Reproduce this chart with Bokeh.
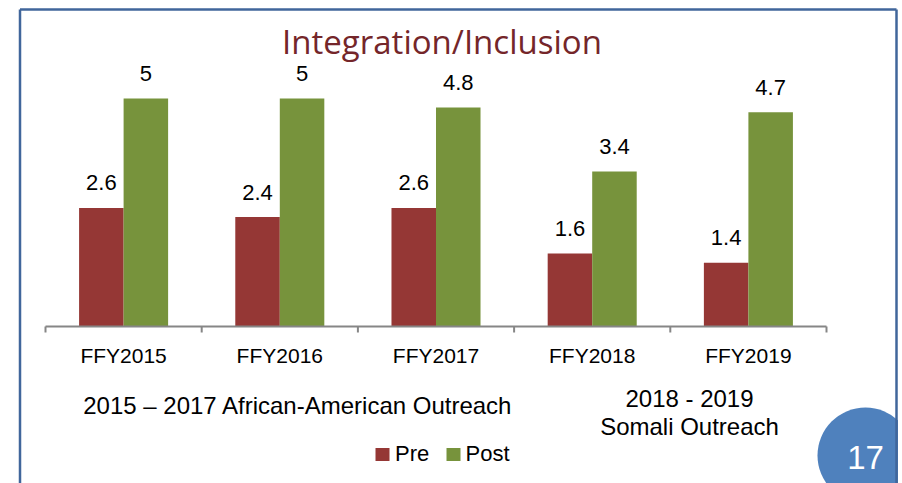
import numpy as np
from bokeh.plotting import figure
from bokeh.models import Range1d, ColumnDataSource
from bokeh.transform import dodge
from bokeh.core.properties import value
from bokeh.embed import file_html
from bokeh.resources import INLINE

# ---------------- data ----------------
categories = ["FFY2015", "FFY2016", "FFY2017", "FFY2018", "FFY2019"]
pre_values = [2.6, 2.4, 2.6, 1.6, 1.4]
post_values = [5, 5, 4.8, 3.4, 4.7]
series_names = ["Pre", "Post"]
title_text = "Integration/Inclusion"
left_note = ["2015 \u2013 2017 African-American Outreach"]
right_note = ["2018 - 2019", "Somali Outreach"]
slide_number = ["17"]

# ---------------- layout / style ----------------
W, H = 898, 483
PAGE_X0, PAGE_Y0 = 0, 0
AXIS_LEFT, AXIS_RIGHT = 45, 826      # page px of category block
BASE_Y = 326                          # page px of y = 0
PX_PER_UNIT = 45.6
BAR_W = 0.285

PRE_COLOR = "#953735"
POST_COLOR = "#77933C"
AXIS_COLOR = "#868686"
TITLE_COLOR = "#74262A"
BORDER_COLOR = "#40669B"
BADGE_COLOR = "#4F81BD"
SANS = "Liberation Sans"

n = len(categories)
cat_w = (AXIS_RIGHT - AXIS_LEFT) / n
x_start = (PAGE_X0 - AXIS_LEFT) / cat_w - 0.5
x_end = (PAGE_X0 + W - AXIS_LEFT) / cat_w - 0.5
y_end = (BASE_Y - PAGE_Y0) / PX_PER_UNIT
y_start = -(PAGE_Y0 + H - BASE_Y) / PX_PER_UNIT

p = figure(width=W, height=H,
           x_range=Range1d(x_start, x_end), y_range=Range1d(y_start, y_end),
           x_axis_type=None, y_axis_type=None,
           output_backend="svg", toolbar_location=None, min_border=0)
p.outline_line_color = None
p.background_fill_color = "white"
p.border_fill_color = "white"
p.xgrid.visible = False
p.ygrid.visible = False
# page-pixel ranges for the slide decoration
p.extra_x_ranges = {"px": Range1d(PAGE_X0, PAGE_X0 + W)}
p.extra_y_ranges = {"py": Range1d(PAGE_Y0 + H, PAGE_Y0)}

src = ColumnDataSource(dict(
    idx=list(range(n)),
    cat=categories,
    pre=pre_values,
    post=post_values,
    pre_lbl=[f"{v:g}" for v in pre_values],
    post_lbl=[f"{v:g}" for v in post_values],
))

# bars
p.vbar(x=dodge("idx", -BAR_W / 2), top="pre", bottom=0, width=BAR_W,
       fill_color=PRE_COLOR, line_color=None, source=src)
p.vbar(x=dodge("idx", BAR_W / 2), top="post", bottom=0, width=BAR_W,
       fill_color=POST_COLOR, line_color=None, source=src)

# value labels
lab_kw = dict(text_align="center", text_baseline="alphabetic", y_offset=-25,
              text_font=value(SANS), text_font_size="22px", text_color="black",
              source=src)
p.text(x=dodge("idx", -BAR_W / 2), y="pre", text="pre_lbl", **lab_kw)
p.text(x=dodge("idx", BAR_W / 2), y="post", text="post_lbl", **lab_kw)

# category axis
bounds = [i - 0.5 for i in range(n + 1)]
p.segment(x0=[bounds[0]], y0=[0], x1=[bounds[-1]], y1=[0],
          line_color=AXIS_COLOR, line_width=2)
p.ray(x=bounds, y=[0] * len(bounds), length=6, angle=-np.pi / 2,
      length_units="screen", line_color=AXIS_COLOR, line_width=2)
p.text(x="idx", y=0, text="cat", source=src, y_offset=29,
       text_align="center", text_baseline="alphabetic",
       text_font=value(SANS), text_font_size="21px", text_color="black")

# ---------------- slide decoration (page px) ----------------
deco = dict(x_range_name="px", y_range_name="py")

p.text(x=[441.5], y=[41], text=[title_text], text_font=value("Open Sans"),
       text_font_size="33px", text_color=TITLE_COLOR, text_align="center",
       text_baseline="alphabetic", **deco)

p.text(x=[297.5], y=[405], text=left_note, text_font=value(SANS),
       text_font_size="24px", text_color="black", text_align="center",
       text_baseline="alphabetic", **deco)
p.text(x=[689, 689], y=[398, 426], text=right_note, text_font=value(SANS),
       text_font_size="24px", text_color="black", text_align="center",
       text_baseline="alphabetic", **deco)

# legend
p.rect(x=[382, 453], y=[454, 454], width=14, height=13,
       fill_color=[PRE_COLOR, POST_COLOR], line_color=None, **deco)
p.text(x=[394.5, 465], y=[453, 453], text=series_names, text_font=value(SANS),
       text_font_size="22px", text_color="black", text_align="left",
       text_baseline="alphabetic", **deco)

# slide number badge
p.circle(x=[865], y=[455], radius=48, fill_color=BADGE_COLOR, line_color=None, **deco)
p.text(x=[865], y=[457], text=slide_number, text_font=value(SANS),
       text_font_size="33px", text_color="white", text_align="center",
       text_baseline="alphabetic", **deco)

# slide border
p.segment(x0=[19.5, 19.5, 896], y0=[9, 9, 9], x1=[19.5, 896, 896], y1=[490, 9, 490],
          line_color=BORDER_COLOR, line_width=2.5, **deco)

open("out.html", "w").write(file_html(p, INLINE))
